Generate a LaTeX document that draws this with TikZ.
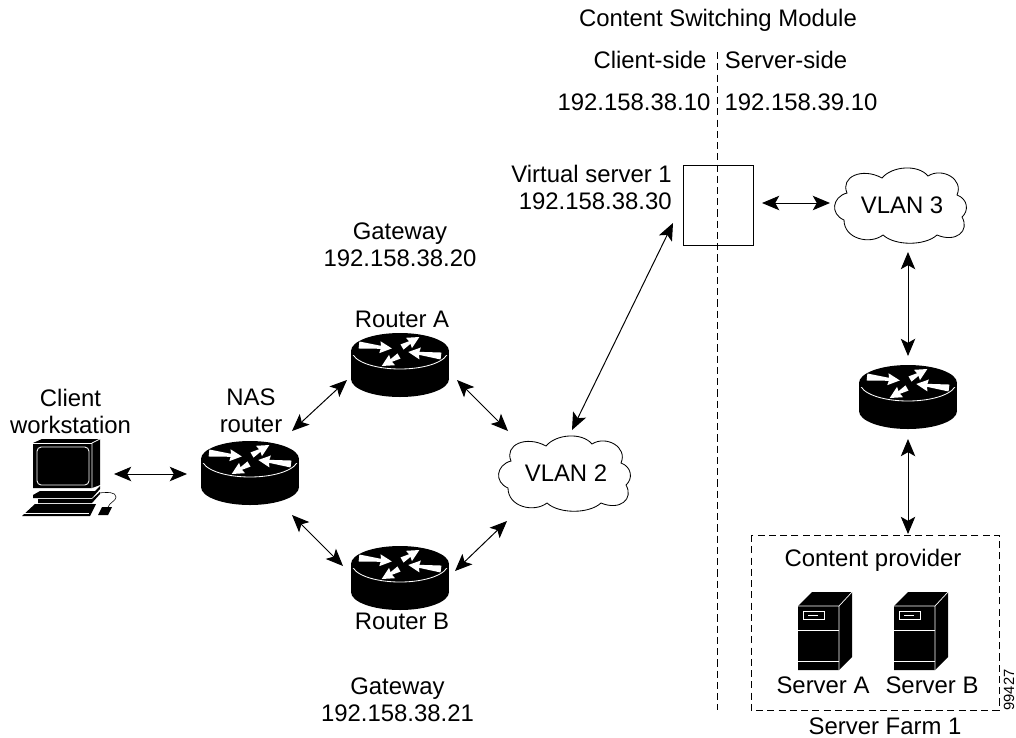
\documentclass[tikz,border=0pt]{standalone}
\usepackage{fontspec}
\setmainfont{Liberation Sans}
\usetikzlibrary{calc,arrows.meta}

\tikzset{
  label/.style={anchor=base,align=center,inner sep=0pt,font=\fontsize{17}{19.2}\selectfont},
  link/.style={{Stealth[length=4.3mm,width=3.6mm,inset=1mm]}-{Stealth[length=4.3mm,width=3.6mm,inset=1mm]},line width=.7pt},
  boundary/.style={dash pattern=on 5pt off 3pt,line width=.6pt},
  pics/whitelong/.style={code={
    \fill[white] (0,-3.5) -- (22,-1.5) -- (21,-6) -- (33,0) -- (21,6) -- (22,1.5) -- (0,3.5) -- cycle;
  }},
  pics/whiteshort/.style={code={
    \fill[white] (0,-3) -- (9,-1.5) -- (8,-6) -- (20,0) -- (8,6) -- (9,1.5) -- (0,3) -- cycle;
  }},
  pics/router/.style={code={
    \fill (0,-14) ellipse[x radius=49,y radius=18];
    \fill (0,14) ellipse[x radius=49,y radius=18];
    \fill (-49,-14) rectangle (49,14);
    \begin{scope}
      \clip (-49,-10) rectangle (49,6);
      \draw[white,line width=.6pt] (0,-14) ellipse[x radius=48,y radius=18];
    \end{scope}
    \pic[shift={(-41,-20)},rotate=-6] {whitelong};
    \pic[shift={(2,-18)},rotate=30] {whiteshort};
    \pic[shift={(41,-9)},rotate=173] {whitelong};
    \pic[shift={(-1,-9)},rotate=210] {whiteshort};
  }},
  pics/vlancloud/.style={code={
    \draw[line width=.6pt,fill=white] (-53,-12) .. controls (-60,-28) and (-38,-38) .. (-18,-27)
      .. controls (-8,-39) and (18,-41) .. (28,-29) .. controls (42,-38) and (64,-26) .. (57,-10)
      .. controls (68,-6) and (69,6) .. (62,12) .. controls (70,26) and (56,38) .. (37,30)
      .. controls (25,41) and (-5,41) .. (-17,30) .. controls (-30,40) and (-56,34) .. (-56,15)
      .. controls (-70,9) and (-68,-8) .. cycle;
  }},
  pics/workstation/.style={code={
    \fill (-45,-27) -- (-36,-31) -- (22,-31) -- (22,15) -- (14,18) -- (-45,18) -- cycle;
    \draw[white,line width=.5pt] (14,18) -- (14,-27) -- (22,-31);
    \draw[white,line width=.5pt] (-45,-27) -- (14,-27);
    \draw[white,line width=.6pt,rounded corners=3pt] (-41,-23) rectangle (11,15);
    \fill (-45,25) -- (-38,21) -- (17,21) -- (22,16) -- (22,19) -- (14,28) -- (-45,28) -- cycle;
    \fill (-40,29) -- (14,29) -- (22,22) -- (22,24) -- (14,33) -- (-40,33) -- cycle;
    \fill (-56,46) -- (-43,34) -- (18,34) -- (12,46) -- cycle;
    \draw[white,line width=.4pt] (-54,43) -- (11,43);
    \fill (20,45) -- (24,37) -- (34,37) -- (30,45) -- cycle;
    \draw[line width=.4pt] (21,23) .. controls (30,22) and (38,22) .. (38,27) .. controls (38,31) and (32,32) .. (30,37);
  }},
  pics/farmserver/.style={code={
    \fill (-27,-25) -- (-13,-39) -- (27,-39) -- (27,26) -- (14,39) -- (-27,39) -- cycle;
    \draw[white,line width=.5pt] (-27,-25) -- (14,-25) -- (27,-39) (14,-25) -- (14,39);
    \draw[white,line width=.5pt] (-27,-1) -- (14,-1) (-27,30) -- (14,30);
    \draw[white,line width=.5pt] (-22,-20) rectangle (-1,-12);
    \draw[white,line width=.5pt] (-17,-16) -- (-7,-16);
  }},
}

\begin{document}
\begin{tikzpicture}[x=.025cm,y=-.025cm]
  \useasboundingbox (0,0) rectangle (1016,737);

  \coordinate (pc) at (78,470);
  \coordinate (nas) at (250,473);
  \coordinate (rtrA) at (400,365);
  \coordinate (rtrB) at (400,578);
  \coordinate (rtrC) at (908,397);
  \coordinate (srvA) at (825,631);
  \coordinate (srvB) at (921,631);
  \coordinate (farm) at (908,535);

  \pic at (pc) {workstation};
  \pic at (nas) {router};
  \pic at (rtrA) {router};
  \pic at (rtrB) {router};
  \pic at (rtrC) {router};
  \pic at (srvA) {farmserver};
  \pic at (srvB) {farmserver};
  \pic at (564,473) {vlancloud};
  \pic at (900,205) {vlancloud};

  \node[label,anchor=center] (vlan2) at (566,473) {VLAN 2};
  \node[label,anchor=center] (vlan3) at (902,205) {VLAN 3};
  \node[draw,line width=.6pt,minimum width=1.75cm,minimum height=2cm,inner sep=0pt] (vsrv) at (718,205) {};

  \draw[boundary] (717,52) -- (717,710);
  \draw[boundary] (751,535) rectangle (999,710);

  \draw[link] ($(pc)+(36,4)$) -- ($(nas)+(-63,1)$);
  \draw[link] ($(nas)+(42,-42)$) -- ($(rtrA)+(-53,15)$);
  \draw[link] ($(nas)+(42,42)$) -- ($(rtrB)+(-57,-12)$);
  \draw[link] ($(rtrA)+(57,15)$) -- ($(vlan2)+(-58,-42)$);
  \draw[link] ($(rtrB)+(55,-7)$) -- ($(vlan2)+(-59,48)$);
  \draw[link] ($(vlan2)+(6,-43)$) -- ($(vsrv)+(-45,18)$);
  \draw[link] ($(vsrv)+(44,-2)$) -- ($(vlan3)+(-72,-2)$);
  \draw[link] ($(vlan3)+(6,47)$) -- ($(rtrC)+(0,-41)$);
  \draw[link] ($(rtrC)+(0,42)$) -- ($(farm)+(0,-1)$);

  \node[label] (title) at (718,26) {Content Switching Module};
  \node[label] (cside) at (650,68) {Client-side};
  \node[label] (sside) at (786,68) {Server-side};
  \node[label] (cip) at (634,110) {192.158.38.10};
  \node[label] (sip) at (801,110) {192.158.39.10};
  \node[label,align=right,anchor=base east] (vsrvtxt) at (672,209) {Virtual server 1\\192.158.38.30};
  \node[label] (gwA) at (400,266) {Gateway\\192.158.38.20};
  \node[label] (rtrAtxt) at (402,327) {Router A};
  \node[label] (pctxt) at (70.5,433) {Client\\workstation};
  \node[label] (nastxt) at (251,432) {NAS\\router};
  \node[label] (rtrBtxt) at (402,629) {Router B};
  \node[label] (gwB) at (397.5,721) {Gateway\\192.158.38.21};
  \node[label] (provider) at (873,566) {Content provider};
  \node[label] (srvAtxt) at (823,693) {Server A};
  \node[label] (srvBtxt) at (932,693) {Server B};
  \node[label] (farmtxt) at (885,734) {Server Farm 1};
  \node[inner sep=0pt,rotate=90,font=\fontsize{10.5}{12}\selectfont] (figid) at (1009,690) {99427};
\end{tikzpicture}
\end{document}
